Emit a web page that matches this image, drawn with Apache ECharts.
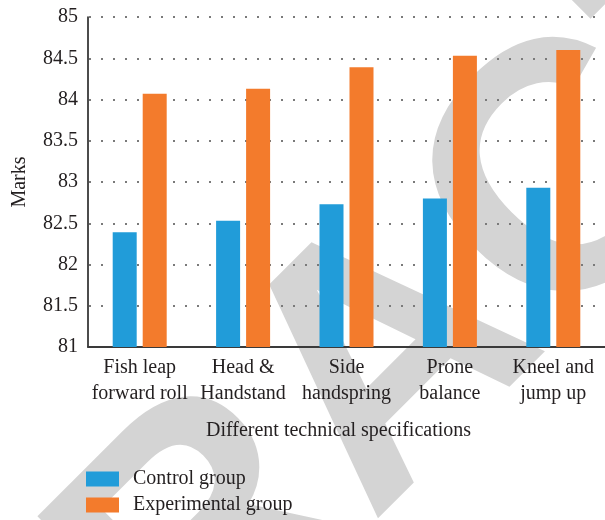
<!DOCTYPE html>
<html>
<head>
<meta charset="utf-8">
<script src="https://cdn.jsdelivr.net/npm/echarts@6/dist/echarts.min.js"></script>
<style>
  html, body { margin: 0; padding: 0; background: #fff; }
  #chart { width: 605px; height: 520px; }
</style>
</head>
<body>
<div id="chart"></div>
<script>
// Technical specifications scored for each group
const categories = [
  'Fish leap\nforward roll',
  'Head &\nHandstand',
  'Side\nhandspring',
  'Prone\nbalance',
  'Kneel and\njump up'
];
const controlGroup = [82.39, 82.53, 82.73, 82.80, 82.93];
const experimentalGroup = [84.07, 84.13, 84.39, 84.53, 84.60];
const yTicks = { min: 81, max: 85, step: 0.5 };

const serif = '"Liberation Serif", "Times New Roman", serif';
const ink = '#231f20';

const chart = echarts.init(document.getElementById('chart'), null, { renderer: 'canvas' });

chart.setOption({
  animation: false,
  backgroundColor: '#ffffff',
  textStyle: { fontFamily: serif },
  graphic: [{
    type: 'text',
    z: -10,
    x: 393,
    y: 366,
    rotation: 45 * Math.PI / 180,
    silent: true,
    style: {
      text: 'RETRACTED',
      font: 'bold 352px "Liberation Sans", Arial, sans-serif',
      fill: '#d4d4d4',
      align: 'center',
      verticalAlign: 'middle'
    }
  }],
  grid: { left: 88, top: 17, bottom: 173, right: -10, containLabel: false },
  legend: {
    orient: 'vertical',
    left: 86,
    top: 469,
    height: 51,
    padding: 0,
    itemWidth: 33,
    itemHeight: 15,
    itemGap: 6,
    icon: 'rect',
    textStyle: { fontFamily: serif, fontSize: 20, color: ink, lineHeight: 20, padding: [0, 0, 0, 9] },
    data: ['Control group', 'Experimental group']
  },
  xAxis: {
    type: 'category',
    data: categories,
    name: 'Different technical specifications',
    nameLocation: 'middle',
    nameGap: 74,
    nameTextStyle: { fontFamily: serif, fontSize: 20, color: ink, padding: [0, 16, 0, 0] },
    axisLine: { lineStyle: { color: '#3a3a3a', width: 2 } },
    axisTick: { show: false },
    axisLabel: { fontFamily: serif, fontSize: 20, color: ink, lineHeight: 26, margin: 8, interval: 0 },
    splitLine: { show: false }
  },
  yAxis: {
    type: 'value',
    min: yTicks.min,
    max: yTicks.max,
    interval: yTicks.step,
    name: 'Marks',
    nameLocation: 'middle',
    nameGap: 58,
    nameTextStyle: { fontFamily: serif, fontSize: 20, color: ink },
    axisLine: { show: true, lineStyle: { color: '#111', width: 1.5 } },
    axisTick: { show: false },
    axisLabel: { fontFamily: serif, fontSize: 20, color: ink, margin: 10 },
    splitLine: { show: true, lineStyle: { color: '#7a7a7a', width: 2, type: [2, 10], dashOffset: -1 } }
  },
  series: [
    {
      name: 'Control group',
      type: 'bar',
      data: controlGroup,
      barWidth: 24,
      barGap: '25%',
      itemStyle: { color: '#219cd9' }
    },
    {
      name: 'Experimental group',
      type: 'bar',
      data: experimentalGroup,
      barWidth: 24,
      itemStyle: { color: '#f37b2c' }
    }
  ]
});
</script>
</body>
</html>
